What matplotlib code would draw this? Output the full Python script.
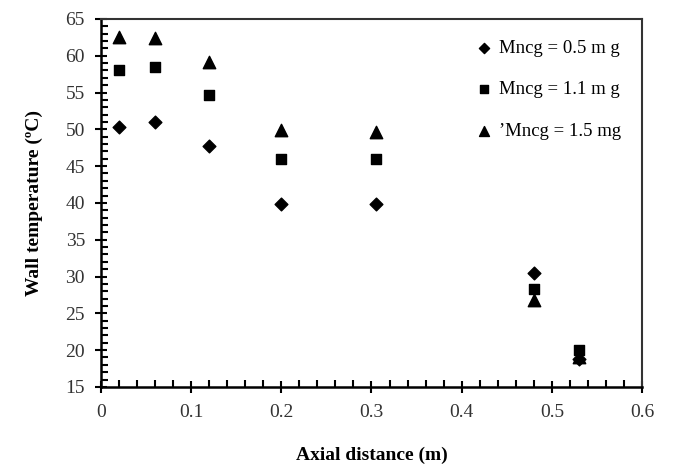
import matplotlib
matplotlib.use("Agg")
import matplotlib.pyplot as plt
from matplotlib.ticker import MultipleLocator

plt.rcParams['font.family'] = ['Liberation Serif', 'DejaVu Serif']

x = [0.02, 0.06, 0.12, 0.2, 0.305, 0.48, 0.53]
m05 = [50.3, 51.0, 47.8, 39.8, 39.8, 30.5, 18.8]
m11 = [58.0, 58.5, 54.7, 46.0, 46.0, 28.3, 20.0]
m15 = [62.6, 62.4, 59.1, 49.9, 49.7, 26.8, 19.0]
labels = ['Mncg = 0.5 m g', 'Mncg = 1.1 m g', '\u2019Mncg = 1.5 mg']

fig = plt.figure(figsize=(6.73, 4.73), dpi=100)
ax = fig.add_axes([0.150, 0.182, 0.804, 0.778])

ax.scatter(x, m15, marker='^', s=80, color='black', label=labels[2], zorder=3)
ax.scatter(x, m11, marker='s', s=55, color='black', label=labels[1], zorder=3)
ax.scatter(x, m05, marker='D', s=42, color='black', label=labels[0], zorder=4)

ax.set_xlim(0, 0.6)
ax.set_ylim(15, 65)
ax.xaxis.set_major_locator(MultipleLocator(0.1))
ax.xaxis.set_minor_locator(MultipleLocator(0.02))
ax.yaxis.set_major_locator(MultipleLocator(5))
ax.yaxis.set_minor_locator(MultipleLocator(1))
ax.set_xticks([0, 0.1, 0.2, 0.3, 0.4, 0.5, 0.6])
ax.set_xticklabels(['0', '0.1', '0.2', '0.3', '0.4', '0.5', '0.6'])
ax.tick_params(which='major', direction='inout', length=9, width=1.5, labelsize=14, colors='black', labelcolor='#333333')
ax.tick_params(which='minor', direction='in', length=5, width=1.5)
ax.tick_params(axis='x', which='major', pad=8)
ax.tick_params(axis='y', which='major', pad=7)

for s in ['left', 'bottom']:
    ax.spines[s].set_linewidth(1.8)
    ax.spines[s].set_color('black')
for s in ['top', 'right']:
    ax.spines[s].set_linewidth(1.5)
    ax.spines[s].set_color('#333333')

ax.set_xlabel('Axial distance (m)', fontsize=14, fontweight='bold', labelpad=18)
ax.set_ylabel('Wall temperature (\u00baC)', fontsize=14, fontweight='bold', labelpad=16)

h, l = ax.get_legend_handles_labels()
order = [2, 1, 0]
leg = ax.legend([h[i] for i in order], [l[i] for i in order], loc='upper right',
                frameon=False, fontsize=13.5, handlelength=1.0, handletextpad=0.3,
                labelspacing=1.3, markerscale=0.8, borderaxespad=0.7)

fig.savefig('out.png', dpi=100)
